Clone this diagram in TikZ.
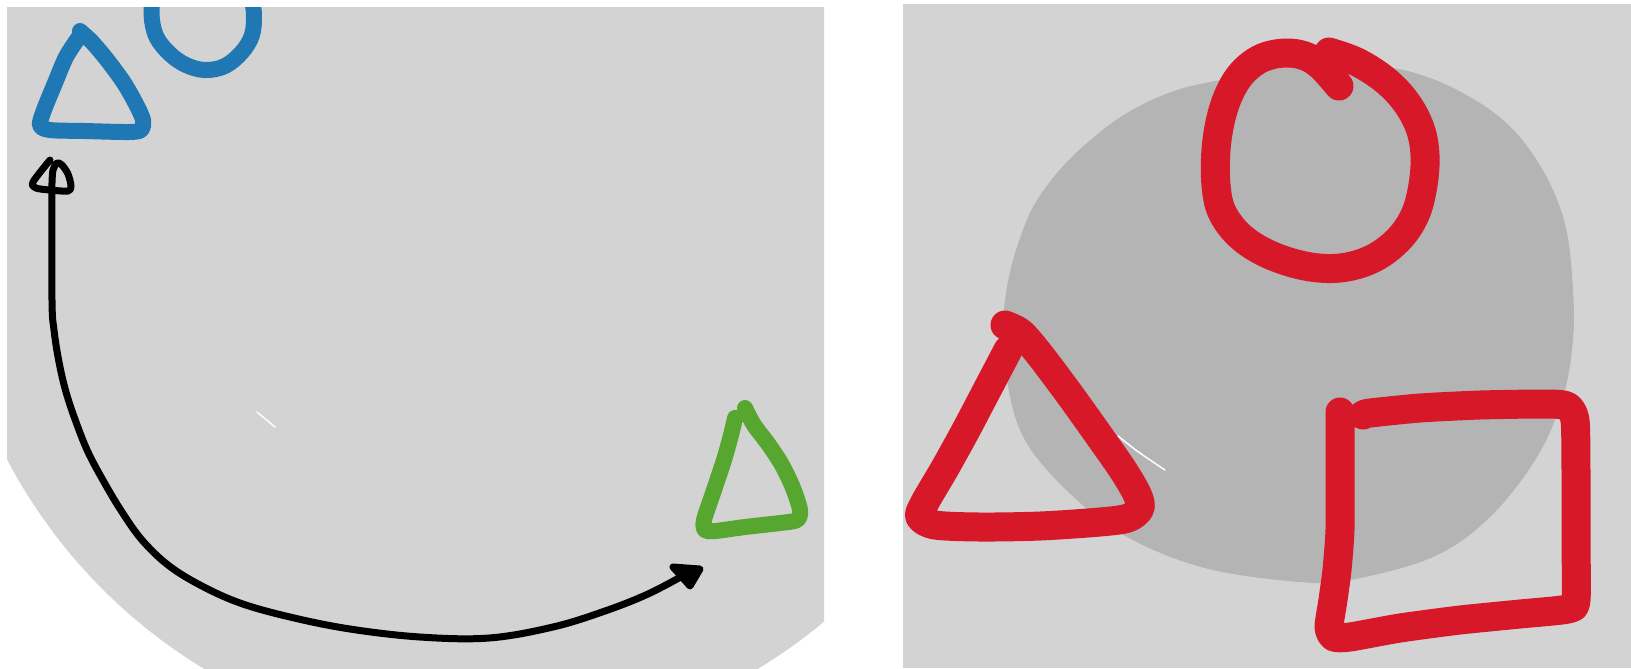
\documentclass[tikz,border=0pt]{standalone}
\definecolor{panelgray}{RGB}{211,211,211}
\definecolor{blobgray}{RGB}{180,180,180}
\definecolor{penblue}{RGB}{31,119,180}
\definecolor{pengreen}{RGB}{86,166,48}
\definecolor{penred}{RGB}{215,24,41}
\tikzset{
  panel/.style={fill=panelgray},
  blob/.style={fill=blobgray},
  pen/.style={line cap=round, line join=round},
  bluepen/.style={pen, draw=penblue, line width=1.6mm},
  greenpen/.style={pen, draw=pengreen, line width=1.6mm},
  redpen/.style={pen, draw=penred, line width=2.9mm},
  inkpen/.style={pen, draw=black, line width=0.7mm},
  glint/.style={draw=white, line width=0.15mm, line cap=round},
}

\begin{document}
\begin{tikzpicture}[x=0.1mm, y=-0.1mm]
  \fill[white] (0,0) rectangle (1631,668);
  \useasboundingbox (0,0) rectangle (1631,668);

  % left panel
  \begin{scope}
    \clip (7,7) rectangle (824,668);
    \fill[panel] (481,211) circle [radius=53.5mm];
    \draw[glint] (257,412) -- (275,427);
    % blue circle, cut by the panel top
    \draw[bluepen] plot[smooth, tension=0.6] coordinates {(152,0) (152,20) (157,38) (170,54)
      (186,65) (205,70) (225,66) (242,52) (252,35) (254,15) (252,0)};
    % blue triangle
    \draw[bluepen] plot[smooth, tension=0.5] coordinates {(80,31) (92,42) (108,61) (124,83)
      (136,104) (143,120) (141,130) (128,132) (85,131) (50,130) (40,125) (44,110)
      (55,83) (66,57) (79,37)};
    % green triangle
    \draw[greenpen] plot[smooth, tension=0.5] coordinates {(745,408) (754,425) (769,445)
      (782,465) (793,488) (800,510) (797,520) (780,523) (745,527) (715,531) (705,530)
      (704,520) (713,493) (724,460) (731,435) (735,418)};
    % black arrow
    \draw[inkpen] plot[smooth, tension=0.5] coordinates {(50,160) (33,182) (36,188) (50,190)
      (68,191) (71,186) (68,174) (62,165) (57,163) (53,170) (52,183) (52,192)};
    \draw[inkpen] plot[smooth, tension=0.6] coordinates {(52,192) (52,300) (54,330) (59,362)
      (66,392) (76,422) (88,452) (104,482) (122,512) (142,540) (168,565) (200,585)
      (240,603) (290,617) (350,629) (420,637) (489,638) (553,627) (605,611) (648,594)
      (686,574)};
    \filldraw[inkpen, fill=black] (673,567) -- (700,569) -- (690,586) -- cycle;
  \end{scope}

  % right panel
  \fill[panel] (903,4) rectangle (1631,668);
  \fill[blob] plot[smooth cycle, tension=0.6] coordinates {(1003,330) (1007,380) (1020,430)
    (1047,470) (1097,517) (1147,547) (1213,570) (1300,582) (1350,580) (1433,557)
    (1490,517) (1537,457) (1563,397) (1573,340) (1573,290) (1567,233) (1553,190)
    (1530,150) (1503,120) (1470,97) (1430,78) (1383,67) (1300,66) (1237,77) (1177,90)
    (1127,113) (1087,143) (1057,173) (1033,207) (1017,247) (1007,287)};
  \draw[glint] (1118,436) .. controls (1138,452) .. (1165,470);
  % red circle
  \draw[redpen] plot[smooth, tension=0.6] coordinates {(1329,52) (1357,62) (1385,80)
    (1406,102) (1420,128) (1425,155) (1423,185) (1415,215) (1398,240) (1372,259)
    (1340,268) (1305,266) (1268,254) (1240,236) (1222,212) (1216,185) (1216,150)
    (1221,118) (1230,92) (1243,72) (1262,58) (1285,53) (1305,56) (1321,66) (1339,86)};
  % red triangle
  \draw[redpen] plot[smooth, tension=0.5] coordinates {(1005,325) (1021,333) (1040,355)
    (1070,395) (1100,437) (1123,470) (1137,494) (1140,508) (1128,518) (1100,522)
    (1040,526) (980,527) (935,525) (920,517) (924,504) (945,468) (966,430)
    (987,390) (1008,350)};
  % red square
  \draw[redpen] plot[smooth, tension=0.4] coordinates {(1340,412) (1340,470) (1340,530)
    (1337,570) (1333,600) (1329,627) (1334,637) (1350,637) (1400,628) (1460,620)
    (1520,614) (1568,609) (1576,600) (1576,540) (1576,470) (1575,420) (1567,406)
    (1545,404) (1480,405) (1420,408) (1370,413) (1363,415)};
\end{tikzpicture}
\end{document}
